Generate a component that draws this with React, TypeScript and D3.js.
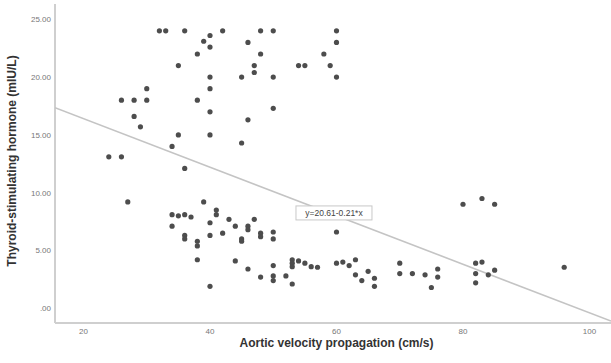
import React from "react";
import * as d3 from "d3";

// Aortic velocity propagation (cm/s) vs TSH (mIU/L)
const avpValues: number[] = [
  32, 33, 36, 42, 48, 50, 60, 40, 39, 40, 46, 60, 38, 48, 58, 35, 47, 54, 55, 59,
  47, 40, 45, 50, 60, 30, 40, 26, 28, 30, 38, 40, 50, 28, 46, 29, 35, 40, 45, 34,
  24, 26, 36,
  27, 39, 34, 35, 36, 37, 34, 36, 36, 38, 38, 38, 40, 41, 41, 43, 44, 46, 46, 47,
  40, 42, 45, 45, 48, 48, 50, 50, 60, 44, 46, 50, 48, 50, 50, 52, 53, 53, 53, 54,
  55, 56, 57, 40, 53, 60, 61, 62, 63, 63, 64, 65, 66, 66, 70, 70, 72, 74, 76, 76,
  75, 80, 83, 85, 82, 83, 82, 84, 85, 82, 96,
];
const tshValues: number[] = [
  24, 24, 24, 24, 24, 24, 24, 23.6, 23.1, 22.6, 23, 23, 22, 22, 22, 21, 21, 21, 21, 21,
  20.4, 20, 20, 20, 20, 19, 19, 18, 18, 18, 18, 17, 17.3, 16.6, 16.3, 15.7, 15, 15, 14.3, 14,
  13.1, 13.1, 12.1,
  9.2, 9.2, 8.1, 8.0, 8.1, 7.9, 7.1, 6.3, 6.0, 5.8, 5.4, 4.2, 7.4, 8.5, 8.1, 7.7, 7.1, 7.1, 6.8, 7.7,
  6.3, 6.5, 6.0, 5.8, 6.5, 6.2, 6.6, 6.0, 6.6, 4.1, 3.4, 3.7, 2.7, 2.8, 2.4, 2.8, 4.2, 3.9, 3.6, 4.1,
  3.9, 3.6, 3.55, 1.9, 2.1, 3.9, 4.0, 3.7, 4.2, 2.9, 2.4, 3.2, 2.6, 1.9, 3.9, 3.0, 3.0, 2.9, 3.4, 2.7,
  1.8, 9.0, 9.5, 9.0, 3.9, 4.0, 3.0, 2.9, 3.3, 2.2, 3.55,
];

const xTicks: number[] = [20, 40, 60, 80, 100];
const yTicks: number[] = [0, 5, 10, 15, 20, 25];

// Fit line y = 20.61 - 0.21 * x
const fitIntercept = 20.61;
const fitSlope = -0.21;
const fitLabel = "y=20.61-0.21*x";

const W = 611;
const H = 363;
const plotLeft = 55;
const plotRight = 611;
const plotTop = 4;
const plotBottom = 323;

const x = d3.scaleLinear().domain([20, 100]).range([83.5, 83.5 + 80 * 6.325]);
const y = d3.scaleLinear().domain([0, 25]).range([308.3, 308.3 - 25 * 11.56]);

const fmtY = (v: number) => (v === 0 ? ".00" : d3.format(".2f")(v));

export default function App() {
  const xMin = x.invert(plotLeft);
  const xMax = x.invert(plotRight);
  const fitLine = d3
    .line<number>()
    .x((d) => x(d))
    .y((d) => y(fitIntercept + fitSlope * d));
  const points = avpValues.map((v, i) => [v, tshValues[i]] as [number, number]);

  const labelCx = x(59.6);
  const labelCy = y(8.25);
  const labelW = 76;
  const labelH = 14;

  return (
    <svg
      width={W}
      height={H}
      style={{ position: "absolute", left: 0, top: 0, background: "#fff" }}
      fontFamily="'Liberation Sans', Arial, sans-serif"
    >
      <defs>
        <clipPath id="plotClip">
          <rect x={plotLeft} y={plotTop} width={plotRight - plotLeft} height={plotBottom - plotTop} />
        </clipPath>
      </defs>

      {/* axes */}
      <line x1={plotLeft} x2={plotLeft} y1={plotTop} y2={plotBottom} stroke="#cfcfcf" strokeWidth={2} />
      <line x1={plotLeft} x2={plotRight} y1={plotBottom} y2={plotBottom} stroke="#cfcfcf" strokeWidth={2} />

      {yTicks.map((t) => (
        <text key={"y" + t} x={51} y={y(t)} dy="0.35em" textAnchor="end" fontSize={8} fill="#777">
          {fmtY(t)}
        </text>
      ))}
      {xTicks.map((t) => (
        <text key={"x" + t} x={x(t)} y={334} textAnchor="middle" fontSize={8} fill="#777">
          {t}
        </text>
      ))}

      {/* fit line */}
      <path
        d={fitLine([xMin, xMax]) || ""}
        stroke="#c4c4c4"
        strokeWidth={1.6}
        fill="none"
        clipPath="url(#plotClip)"
      />

      {/* observations */}
      <g fill="#4d4d4d">
        {points.map(([a, b], i) => (
          <circle key={i} cx={x(a)} cy={y(b)} r={2.6} />
        ))}
      </g>

      {/* fit label */}
      <rect
        x={labelCx - labelW / 2}
        y={labelCy - labelH / 2}
        width={labelW}
        height={labelH}
        fill="#fff"
        stroke="#c8c8c8"
        strokeWidth={1}
      />
      <text x={labelCx} y={labelCy} dy="0.35em" textAnchor="middle" fontSize={8.5} fill="#444">
        {fitLabel}
      </text>

      {/* axis titles */}
      <text x={336.5} y={347} textAnchor="middle" fontSize={12} fontWeight="bold" fill="#333">
        Aortic velocity propagation (cm/s)
      </text>
      <text
        transform={`translate(16, 161) rotate(-90)`}
        textAnchor="middle"
        fontSize={12}
        fontWeight="bold"
        fill="#333"
      >
        Thyroid-stimulating hormone (mIU/L)
      </text>
    </svg>
  );
}
